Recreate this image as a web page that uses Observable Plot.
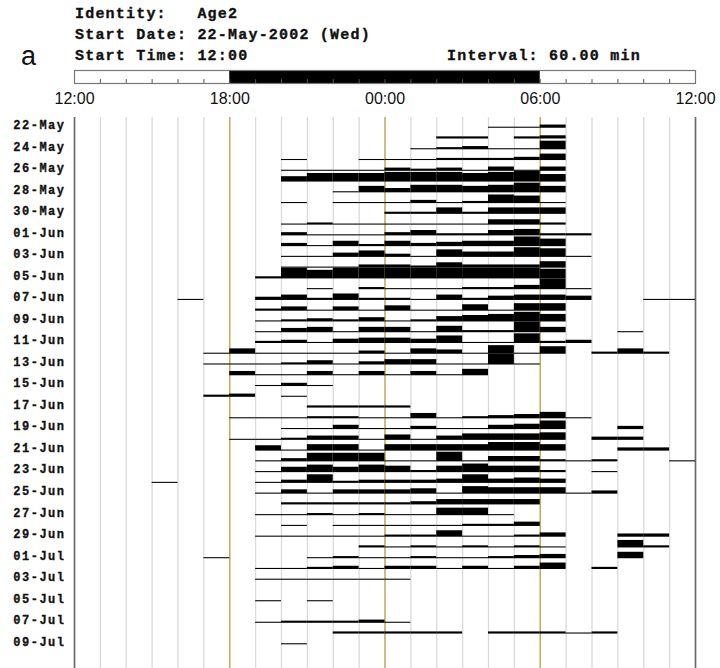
<!DOCTYPE html>
<html>
<head>
<meta charset="utf-8">
<script src="https://cdn.jsdelivr.net/npm/d3@7"></script>
<script src="https://cdn.jsdelivr.net/npm/@observablehq/plot@0.6"></script>
<style>
  body { margin: 0; background: #fff; }
  #page { position: relative; width: 720px; height: 668px; overflow: hidden; background: #fff; }
  .hdr { position: absolute; font-family: "Liberation Mono", monospace; font-weight: bold;
         font-size: 15px; letter-spacing: 1.2px; white-space: pre; color: #111; line-height: 14px;
         -webkit-text-stroke: 0.35px #111; }
  #panel { position: absolute; left: 21px; top: 43px; font-family: "Liberation Sans", Arial, sans-serif;
           font-size: 27px; line-height: 27px; color: #111; }
  #lightbar { position: absolute; left: 0; top: 66px; }
  #acto { position: absolute; left: 0; top: 110px; }
  #acto svg g[aria-label="y-axis tick label"] text { letter-spacing: 1.5px; stroke: #111; stroke-width: 0.3px; }
</style>
</head>
<body>
<div id="page">
  <div class="hdr" style="left:75px; top:8px">Identity:   Age2</div>
  <div class="hdr" style="left:75px; top:29px">Start Date: 22-May-2002 (Wed)</div>
  <div class="hdr" style="left:75px; top:50px">Start Time: 12:00</div>
  <div class="hdr" style="left:447px; top:50px">Interval: 60.00 min</div>
  <div id="panel">a</div>
  <div id="lightbar"></div>
  <div id="acto"></div>
</div>
<script>
// Hours are counted from the 12:00 start of each plotted day (0 = 12:00, 12 = 00:00).
const hourTickLabels = ["12:00", "18:00", "00:00", "06:00", "12:00"];
const hourTickValues = [0, 6, 12, 18, 24];
const darkPhases = [{ start: 6, end: 18 }];   // 18:00 - 06:00 lights off
const phaseLines = [6, 12, 18];               // 18:00, 00:00, 06:00 reference lines

// Day labels (every second day), starting 22-May-2002
const dayTickLabels = [
  "22-May", "24-May", "26-May", "28-May", "30-May", "01-Jun", "03-Jun", "05-Jun",
  "07-Jun", "09-Jun", "11-Jun", "13-Jun", "15-Jun", "17-Jun", "19-Jun", "21-Jun",
  "23-Jun", "25-Jun", "27-Jun", "29-Jun", "01-Jul", "03-Jul", "05-Jul", "07-Jul", "09-Jul"
];

// Hourly activity level per day (0 = none, 10 = full row height), 24 bins from 12:00
const activityByDay = [
  [0,0,0,0,0,0,0,0,0,0,0,0,0,0,0,0,1,1,3,0,0,0,0,0],
  [0,0,0,0,0,0,0,0,0,0,0,0,0,0,2,2,0,2,3,0,0,0,0,0],
  [0,0,0,0,0,0,0,0,0,0,0,0,0,1,2,3,1,1,8,0,0,0,0,0],
  [0,0,0,0,0,0,0,0,1,0,0,1,1,1,2,2,2,3,6,0,0,0,0,0],
  [0,0,0,0,0,0,0,0,1,1,1,1,3,2,3,1,4,1,4,0,0,0,0,0],
  [0,0,0,0,0,0,0,0,5,8,8,8,9,9,9,8,9,10,7,0,0,0,0,0],
  [0,0,0,0,0,0,0,0,0,0,1,6,4,7,7,6,7,9,6,0,0,0,0,0],
  [0,0,0,0,0,0,0,0,1,0,1,1,1,3,1,2,8,7,1,0,0,0,0,0],
  [0,0,0,0,0,0,0,0,0,0,0,0,2,2,6,2,6,6,6,0,0,0,0,0],
  [0,0,0,0,0,0,0,0,1,2,1,1,1,1,1,1,5,5,2,0,0,0,0,0],
  [0,0,0,0,0,0,0,0,3,1,1,1,3,5,2,2,5,6,2,2,0,0,0,0],
  [0,0,0,0,0,0,0,0,3,1,5,2,5,3,4,5,5,9,7,0,0,0,0,0],
  [0,0,0,0,0,0,0,0,1,1,4,6,3,1,7,5,5,9,8,1,0,0,0,0],
  [0,0,0,0,0,0,0,0,1,1,1,3,3,2,5,3,3,3,6,0,0,0,0,0],
  [0,0,0,0,0,0,0,2,10,8,10,10,10,10,10,10,10,10,9,0,0,0,0,0],
  [0,0,0,0,0,0,0,0,0,1,0,2,1,1,1,2,2,4,10,1,0,0,0,0],
  [0,0,0,0,1,0,0,3,5,2,6,2,2,1,5,2,4,5,5,4,0,0,1,1],
  [0,0,0,0,0,0,0,2,4,1,4,1,5,1,1,6,1,7,7,0,0,0,0,0],
  [0,0,0,0,0,0,0,1,2,3,2,4,1,2,5,6,7,9,7,0,0,0,0,0],
  [0,0,0,0,0,0,0,1,4,5,1,5,5,1,6,2,2,10,5,0,0,1,0,0],
  [0,0,0,0,0,0,0,2,3,1,4,5,5,4,7,1,1,9,2,3,0,0,0,0],
  [0,0,0,0,0,1,5,1,1,1,1,3,1,5,4,1,8,1,7,0,2,5,2,0],
  [0,0,0,0,0,1,1,1,2,4,1,3,5,5,1,1,10,1,0,0,0,0,0,0],
  [0,0,0,0,0,0,4,1,1,4,1,4,1,4,1,6,0,0,0,0,0,0,0,0],
  [0,0,0,0,0,0,0,1,3,1,0,0,0,0,0,0,0,0,0,0,0,0,0,0],
  [0,0,0,0,0,2,3,0,1,0,0,0,0,0,0,0,0,0,0,0,0,0,0,0],
  [0,0,0,0,0,0,0,0,0,2,2,2,2,0,0,0,0,0,0,0,0,0,0,0],
  [0,0,0,0,0,0,1,1,1,2,2,1,1,5,1,2,3,4,6,1,0,0,0,0],
  [0,0,0,0,0,0,0,0,1,1,4,1,1,3,1,1,4,5,8,0,0,3,0,0],
  [0,0,0,0,0,0,1,1,2,4,4,1,5,1,4,6,6,6,7,0,3,3,0,0],
  [0,0,0,0,0,0,0,5,1,6,6,1,6,6,6,6,8,8,6,0,0,3,3,0],
  [0,0,0,0,0,0,0,1,3,8,8,8,1,1,9,1,5,5,2,1,2,0,0,1],
  [0,0,0,0,0,0,0,1,5,7,5,7,6,2,6,8,6,6,2,0,1,0,0,0],
  [0,0,0,1,0,0,0,1,3,8,2,3,3,3,4,8,4,5,4,0,0,0,0,0],
  [0,0,0,0,0,0,0,1,4,1,4,4,4,5,1,7,6,6,6,1,3,0,0,0],
  [0,0,0,0,0,0,0,0,2,2,2,2,2,3,5,5,5,5,0,0,0,0,0,0],
  [0,0,0,0,0,0,0,1,1,2,1,2,1,1,7,7,1,0,0,0,0,0,0,0],
  [0,0,0,0,0,0,0,0,1,0,1,1,1,1,1,2,2,4,0,0,0,0,0,0],
  [0,0,0,0,0,0,0,1,1,1,1,1,2,2,6,1,1,2,4,0,0,3,3,0],
  [0,0,0,0,0,0,0,0,0,0,0,2,1,2,1,2,1,2,1,0,0,7,2,0],
  [0,0,0,0,0,1,0,0,0,1,2,1,1,2,1,1,2,3,4,0,0,6,0,0],
  [0,0,0,0,0,0,0,1,1,2,3,1,3,3,1,3,1,3,6,0,2,0,0,0],
  [0,0,0,0,0,0,0,1,1,1,1,1,1,0,0,0,0,0,0,0,0,0,0,0],
  [0,0,0,0,0,0,0,0,0,0,0,0,0,0,0,0,0,0,0,0,0,0,0,0],
  [0,0,0,0,0,0,0,1,0,1,0,0,0,0,0,0,0,0,0,0,0,0,0,0],
  [0,0,0,0,0,0,0,0,0,0,0,0,0,0,0,0,0,0,0,0,0,0,0,0],
  [0,0,0,0,0,0,0,1,2,2,2,3,1,0,0,0,0,0,0,0,0,0,0,0],
  [0,0,0,0,0,0,0,0,0,0,2,2,2,2,2,0,2,2,2,1,2,0,0,0],
  [0,0,0,0,0,0,0,0,1,0,0,0,0,0,0,0,0,0,0,0,0,0,0,0]
];

const hours = d3.range(25);
const xOpts = { domain: [0, 24] };

// Light/dark bar with hour ticks and time labels
const lightbar = Plot.plot({
  width: 720, height: 44,
  marginLeft: 74, marginRight: 25, marginTop: 4, marginBottom: 27,
  x: { ...xOpts, axis: null },
  y: { domain: [0, 1], axis: null },
  style: { background: "transparent" },
  marks: [
    Plot.rect(darkPhases, { x1: "start", x2: "end", fill: "#000" }),
    Plot.ruleX(hours, { y1: 0, y2: 0.3, stroke: "#555", strokeWidth: 1 }),
    Plot.frame({ stroke: "#777", strokeWidth: 1.2 }),
    Plot.axisX({
      ticks: hourTickValues,
      tickFormat: (h) => hourTickLabels[hourTickValues.indexOf(h)],
      tickSize: 0, tickPadding: 9,
      fontSize: 16, fontFamily: "'Liberation Sans Narrow', 'Liberation Sans', Arial, sans-serif",
      fill: "#111"
    })
  ]
});
document.getElementById("lightbar").append(lightbar);

// One cell per active hour bin: bar rises from the day's baseline
const cells = activityByDay.flatMap((row, day) =>
  row.map((level, hour) => ({ day, hour, level })).filter((c) => c.level > 0)
);

const acto = Plot.plot({
  width: 720, height: 558,
  marginLeft: 74, marginRight: 25, marginTop: 7, marginBottom: 0,
  x: { ...xOpts, axis: null },
  y: { domain: [0, 51.2], reverse: true, axis: null },
  style: { background: "#fff" },
  marks: [
    Plot.ruleX(hours.filter((h) => !phaseLines.includes(h)), { stroke: "#dadada", strokeWidth: 1.3 }),
    Plot.ruleX(phaseLines, { stroke: "#c4ac5e", strokeWidth: 1.6 }),
    Plot.ruleX([0, 24], { stroke: "#666", strokeWidth: 1.6 }),
    Plot.rect(cells, {
      x1: "hour",
      x2: (d) => d.hour + 1,
      y1: (d) => d.day + 1,
      y2: (d) => d.day + 1 - d.level / 10,
      fill: "#000"
    }),
    Plot.axisY({
      ticks: dayTickLabels.map((_, i) => 2 * i + 1),
      tickFormat: (v) => dayTickLabels[(v - 1) / 2],
      tickSize: 0, tickPadding: 9, dy: -3,
      fontSize: 12, fontWeight: "bold",
      fontFamily: "'Liberation Mono', monospace",
      fill: "#111"
    })
  ]
});
document.getElementById("acto").append(acto);
</script>
</body>
</html>
